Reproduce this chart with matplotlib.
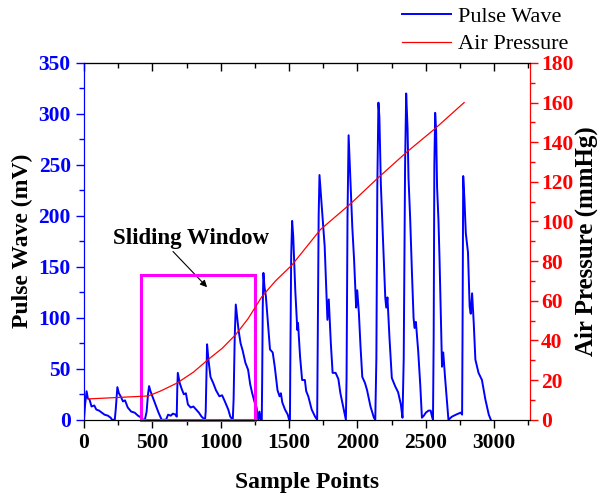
import numpy as np
import matplotlib
matplotlib.use('Agg')
import matplotlib.pyplot as plt
from matplotlib.patches import Rectangle

plt.rcParams['font.family'] = ['Liberation Serif', 'DejaVu Serif']

# pulse wave (sample index, mV), beat by beat
pulse_x = [0, 8, 19, 28, 40, 55, 75, 90, 110, 130, 150, 175, 195, 205, 225,
           232, 244, 255, 268, 285, 300, 320, 345, 370, 395, 420, 434,
           445, 458, 468, 476, 486, 500, 520, 545, 568, 600, 615, 635, 650, 670, 678,
           682, 686, 700, 715, 730, 745, 760, 780, 800, 820, 840, 860, 885,
           890, 895, 900, 910, 925, 945, 965, 990, 1010, 1030, 1055, 1070, 1088,
           1094, 1102, 1110, 1120, 1130, 1145, 1160, 1180, 1200, 1215, 1230, 1250, 1262, 1275, 1283, 1292, 1300,
           1303, 1307, 1312, 1320, 1330, 1345, 1360, 1380, 1395, 1415, 1430, 1440, 1450, 1470, 1490, 1500, 1506,
           1509, 1515, 1522, 1530, 1545, 1560, 1565, 1580, 1595, 1615, 1625, 1640, 1665, 1690, 1705,
           1710, 1716, 1722, 1730, 1745, 1760, 1775, 1780, 1790, 1805, 1818, 1840, 1860, 1875, 1895, 1915,
           1920, 1927, 1935, 1942, 1950, 1962, 1975, 1985, 1990, 1998, 2010, 2022, 2035, 2055, 2070, 2095, 2120, 2130,
           2138, 2145, 2153, 2160, 2171, 2190, 2203, 2210, 2219, 2234, 2251, 2275, 2297, 2317, 2329,
           2338, 2348, 2356, 2366, 2373, 2385, 2398, 2410, 2417, 2427, 2444, 2459, 2471, 2485, 2500, 2520, 2535, 2545, 2552,
           2557, 2562, 2568, 2575, 2582, 2592, 2600, 2612, 2618, 2627, 2640, 2655, 2665, 2690, 2720, 2755, 2765,
           2768, 2773, 2782, 2792, 2808, 2820, 2828, 2838, 2850, 2862, 2885, 2910, 2935, 2960, 2975]
pulse_y = [0, 15, 28, 21, 20, 13, 14, 10, 9, 7, 5, 4, 2, 0, 0,
           10, 32, 26, 23, 18, 19, 12, 8, 7, 4, 2, 0,
           0, 8, 25, 33, 28, 23, 16, 7, 0, 0, 5, 4, 6, 5, 3,
           30, 46, 36, 30, 25, 26, 15, 12, 13, 10, 7, 3, 0,
           8, 40, 74, 59, 42, 36, 29, 23, 24, 18, 10, 3, 0,
           20, 80, 113, 100, 88, 75, 68, 56, 49, 35, 26, 16, 12, 0, 8, 0, 0,
           40, 110, 144, 130, 121, 95, 69, 66, 52, 29, 23, 26, 17, 10, 5, 0, 0,
           60, 160, 195, 180, 127, 88, 95, 62, 39, 39, 28, 23, 10, 3, 0,
           90, 200, 240, 225, 196, 170, 118, 98, 118, 75, 46, 46, 40, 26, 13, 0,
           40, 200, 279, 255, 228, 189, 157, 124, 110, 127, 105, 72, 42, 36, 29, 13, 2, 0,
           60, 230, 311, 297, 230, 165, 120, 110, 120, 80, 41, 33, 27, 15, 2,
           60, 250, 320, 286, 237, 198, 145, 100, 90, 96, 67, 34, 2, 4, 7, 9, 9, 3, 0,
           80, 250, 301, 284, 228, 196, 157, 85, 52, 66, 42, 16, 0, 3, 5, 7, 5,
           80, 239, 216, 183, 164, 111, 104, 124, 95, 59, 46, 39, 20, 5, 0]

# cuff air pressure (sample index, mmHg)
press_x = [30, 470, 560, 680, 800, 910, 1010, 1110, 1200, 1300, 1400, 1520,
           1730, 1950, 2150, 2360, 2570, 2780]
press_y = [10.5, 12, 14.5, 18.5, 24, 30.5, 36, 43, 51, 62, 70, 78,
           96, 109, 122, 135, 147, 160]

win_x = [415, 1251]
win_h = 142

fig = plt.figure(figsize=(6, 4.95), dpi=100)
ax = fig.add_axes([0.14, 0.152, 0.743, 0.721])
ax2 = ax.twinx()

l1, = ax.plot(pulse_x, pulse_y, color='#0000ff', lw=1.4, label='Pulse Wave')
l2, = ax2.plot(press_x, press_y, color='#ff0000', lw=0.9, label='Air Pressure')

ax.add_patch(Rectangle((win_x[0], 0), win_x[1] - win_x[0], win_h, fill=False,
                       edgecolor='#ff00ff', lw=2.2, zorder=5, clip_on=False))
ax.text(783, 178, 'Sliding Window', ha='center', va='center', fontsize=16.5,
        fontweight='bold')
ax.annotate('', xy=(900, 130), xytext=(651, 165),
            arrowprops=dict(arrowstyle='-|>', color='black', lw=0.8,
                            mutation_scale=10, shrinkA=0, shrinkB=0))

ax.set_xlim(0, 3260)
ax.set_ylim(0, 350)
ax2.set_ylim(0, 180)
xmaj = [0, 500, 1000, 1500, 2000, 2500, 3000]
xmin = np.arange(250, 3260, 500)
ax.set_xticks(xmaj)
ax.set_xticks(xmin, minor=True)
ax.set_yticks(np.arange(0, 351, 50))
ax.set_yticks(np.arange(25, 350, 50), minor=True)
ax2.set_yticks(np.arange(0, 181, 20))
ax2.set_yticks(np.arange(10, 180, 20), minor=True)

ax.tick_params(axis='x', which='major', length=6, width=1, labelsize=15.5)
ax.tick_params(axis='x', which='minor', length=3.5, width=1)
ax.tick_params(axis='y', which='major', length=6, width=1, color='#0000ff',
               labelcolor='#0000ff', labelsize=15.5)
ax.tick_params(axis='y', which='minor', length=3.5, width=1, color='#0000ff')
ax2.tick_params(axis='y', which='major', length=6, width=1, color='#ff0000',
                labelcolor='#ff0000', labelsize=15.5, pad=2)
ax2.tick_params(axis='y', which='minor', length=3.5, width=1, color='#ff0000')

# top ticks point into the plot
top = ax.secondary_xaxis('top')
top.set_xticks(xmaj)
top.set_xticks(xmin, minor=True)
top.tick_params(axis='x', which='both', direction='in', labeltop=False)
top.tick_params(axis='x', which='major', length=6, width=1)
top.tick_params(axis='x', which='minor', length=3.5, width=1)

for a in (ax, ax2):
    for lab in a.get_xticklabels() + a.get_yticklabels():
        lab.set_fontweight('bold')
for a in (ax, ax2):
    a.spines['left'].set_color('#0000ff')
    a.spines['right'].set_color('#ff0000')

ax.set_xlabel('Sample Points', fontsize=17, fontweight='bold', labelpad=14)
ax.set_ylabel('Pulse Wave (mV)', fontsize=17, fontweight='bold', labelpad=4)
ax2.set_ylabel('Air Pressure (mmHg)', fontsize=18, fontweight='bold', labelpad=1)

fig.legend([l1, l2], ['Pulse Wave', 'Air Pressure'], loc='upper right',
           bbox_to_anchor=(0.98, 1.027), frameon=False, fontsize=16,
           handlelength=2.2, labelspacing=0.3, handletextpad=0.3)

fig.savefig('out.png', dpi=100)
